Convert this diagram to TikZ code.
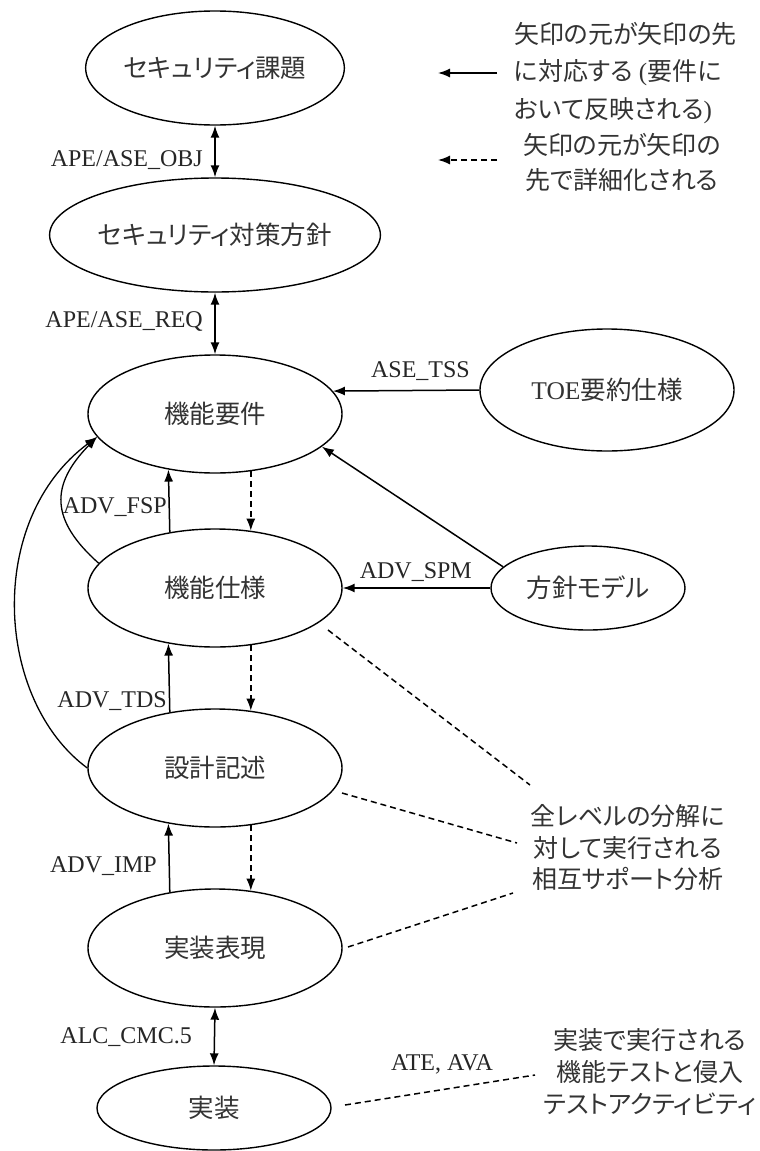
\documentclass[tikz,border=0pt]{standalone}
\usepackage{fontspec}
\setmainfont{Liberation Serif}
\newfontfamily\jp[RawFeature=+palt]{Noto Sans CJK JP}
\usetikzlibrary{arrows.meta,shapes.geometric}
\begin{document}
\begin{tikzpicture}[x=1pt,y=-1pt,
  ell/.style={draw, line width=1.4pt, ellipse, inner sep=0pt, minimum width=254pt, minimum height=118pt, font=\jp\fontsize{25.5}{30}\selectfont, text=black!80},
  lab/.style={font=\fontsize{24}{28}\selectfont, text=black!85, inner sep=0pt},
  arr/.style={-{Latex[length=12pt,width=9pt]}, line width=1.5pt},
  dbl/.style={{Latex[length=12pt,width=9pt]}-{Latex[length=12pt,width=9pt]}, line width=1.5pt},
  darr/.style={arr, dash pattern=on 6pt off 4pt},
  dline/.style={line width=1.5pt, dash pattern=on 6pt off 4pt},
  note/.style={font=\jp\fontsize{25}{32}\selectfont, text=black!80, align=center, inner sep=0pt}]
\useasboundingbox (0,0) rectangle (760,1151);
\fill[white] (0,0) rectangle (760,1151);

% ellipses
\node[ell, minimum height=114pt] (e1) at (215,68) {セキュリティ課題};
\node[ell, minimum height=114pt] (e2) at (215,235) {セキュリティ対策方針};
\node[ell] (e3) at (215,414) {機能要件};
\node[ell] (e4) at (215,588) {機能仕様};
\node[ell] (e5) at (215,768) {設計記述};
\node[ell] (e6) at (215,948) {実装表現};
\node[ell, minimum width=234pt, minimum height=84pt] (e7) at (214,1108) {実装};
\node[ell, minimum height=122pt] (toe) at (607,390) {{\rmfamily TOE}要約仕様};
\node[ell, minimum width=194pt, minimum height=84pt] (pol) at (588,588) {方針モデル};

% labels
\node[lab, anchor=east] (lobj) at (203,160) {APE/ASE\_OBJ};
\node[lab, anchor=east] (lreq) at (203,321) {APE/ASE\_REQ};
\node[lab, anchor=east] (ltss) at (470,371) {ASE\_TSS};
\node[lab, anchor=east] (lfsp) at (167,507) {ADV\_FSP};
\node[lab, anchor=east] (lspm) at (472,572) {ADV\_SPM};
\node[lab, anchor=east] (ltds) at (167,701) {ADV\_TDS};
\node[lab, anchor=east] (limp) at (157,866) {ADV\_IMP};
\node[lab, anchor=east] (lcmc) at (192,1037) {ALC\_CMC.5};
\node[lab] (late) at (442,1064) {ATE, AVA};

% legend
\node[note, anchor=west, align=left, font=\jp\fontsize{25}{37.5}\selectfont] (leg1) at (514,73) {矢印の元が矢印の先\\に対応する {\rmfamily (}要件に\\おいて反映される{\rmfamily )}};
\node[note, font=\jp\fontsize{25}{35}\selectfont] (leg2) at (622,162) {矢印の元が矢印の\\先で詳細化される};
\coordinate (a1s) at (497,73); \coordinate (a1e) at (438,73);
\draw[arr] (a1s) -- (a1e);
\coordinate (a2s) at (497,160); \coordinate (a2e) at (438,160);
\draw[darr] (a2s) -- (a2e);

% notes
\node[note, font=\jp\fontsize{25}{31.5}\selectfont] (mut) at (628,848) {全レベルの分解に\\対して実行される\\相互サポート分析};
\node[note] (tst) at (650,1072) {実装で実行される\\機能テストと侵入\\テストアクティビティ};

% connectors
\draw[dbl] (e1.south) -- (e2.north);
\draw[dbl] (e2.south) -- (e3.north);
\draw[dbl] (e6.south) -- (e7.north);

\draw[arr] (e4.129.2) -- (e3.230.8);
\draw[darr] (e3.-58.3) -- (e4.58.3);
\draw[arr] (e5.129.2) -- (e4.230.8);
\draw[darr] (e4.-58.3) -- (e5.58.3);
\draw[arr] (e6.129.2) -- (e5.230.8);
\draw[darr] (e5.-58.3) -- (e6.58.3);

\draw[arr] (toe.west) -- (e3.11.7);
\draw[arr] (pol.west) -- (e4.east);
\draw[arr] (pol.166.6) -- (e3.-17.9);

\draw[arr, line width=1.3pt] (e4.168) .. controls (50,520) and (50,485) .. (e3.191);
\draw[arr, line width=1.3pt] (e5.west) .. controls (-5,700) and (-15,520) .. (e3.191);

% dashed annotation lines
\coordinate (d1a) at (328,630); \coordinate (d1b) at (530,785);
\coordinate (d2a) at (342,793); \coordinate (d2b) at (517,843);
\coordinate (d3a) at (348,947); \coordinate (d3b) at (513,893);
\coordinate (d4a) at (345,1105); \coordinate (d4b) at (535,1075);
\draw[dline] (d1a) -- (d1b);
\draw[dline] (d2a) -- (d2b);
\draw[dline] (d3a) -- (d3b);
\draw[dline] (d4a) -- (d4b);
\end{tikzpicture}
\end{document}
